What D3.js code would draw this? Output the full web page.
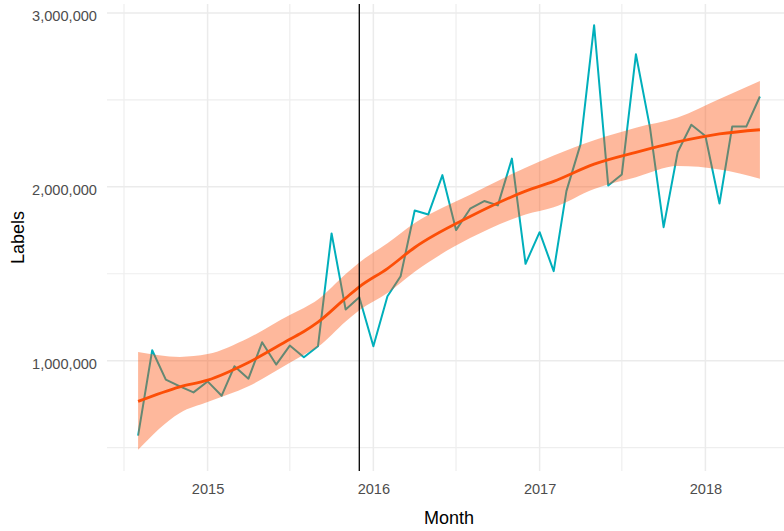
<!DOCTYPE html>
<html>
<head>
<meta charset="utf-8">
<script src="https://cdn.jsdelivr.net/npm/d3@7"></script>
<style>
  body { margin: 0; background: #fff; }
  text { font-family: "Liberation Sans", Arial, sans-serif; }
</style>
</head>
<body>
<svg id="chart"></svg>
<script>
// monthly label counts
var months = ["2014-08", "2014-09", "2014-10", "2014-11", "2014-12",
  "2015-01", "2015-02", "2015-03", "2015-04", "2015-05", "2015-06", "2015-07",
  "2015-08", "2015-09", "2015-10", "2015-11", "2015-12",
  "2016-01", "2016-02", "2016-03", "2016-04", "2016-05", "2016-06", "2016-07",
  "2016-08", "2016-09", "2016-10", "2016-11", "2016-12",
  "2017-01", "2017-02", "2017-03", "2017-04", "2017-05", "2017-06", "2017-07",
  "2017-08", "2017-09", "2017-10", "2017-11", "2017-12",
  "2018-01", "2018-02", "2018-03", "2018-04", "2018-05"];
var labels = [569000, 1060000, 891000, 853000, 818000,
  881000, 799000, 968000, 897000, 1106000, 978000, 1087000,
  1020000, 1083000, 1732000, 1294000, 1365000,
  1083000, 1371000, 1486000, 1864000, 1841000, 2067000, 1751000,
  1874000, 1918000, 1893000, 2162000, 1557000,
  1739000, 1515000, 1975000, 2244000, 2929000, 2008000, 2071000,
  2762000, 2340000, 1768000, 2200000, 2357000,
  2292000, 1904000, 2346000, 2346000, 2519000];

// loess smooth (fit and confidence band)
var smoothMonths = ["2014-08", "2014-11", "2015-01", "2015-04", "2015-07", "2015-08",
  "2015-09", "2015-11", "2015-12", "2016-02", "2016-04", "2016-08", "2016-12",
  "2017-02", "2017-05", "2017-08", "2017-11", "2018-02", "2018-05"];
var smoothFit = [766000, 850000, 888000, 990000, 1123000, 1168000,
  1222000, 1360000, 1425000, 1530000, 1651000, 1829000, 1975000,
  2031000, 2130000, 2198000, 2258000, 2304000, 2328000];
var smoothLow = [488000, 700000, 762000, 853000, 988000, 1035000,
  1080000, 1225000, 1290000, 1390000, 1512000, 1705000, 1841000,
  1882000, 1988000, 2055000, 2119000, 2100000, 2047000];
var smoothHigh = [1050000, 1022000, 1038000, 1131000, 1263000, 1303000,
  1352000, 1498000, 1565000, 1675000, 1792000, 1955000, 2110000,
  2180000, 2268000, 2340000, 2398000, 2505000, 2609000];

var yMajor = [1000000, 2000000, 3000000];
var yMinor = [500000, 1500000, 2500000];
var xMajor = ["2015-01", "2016-01", "2017-01", "2018-01"];
var xMinor = ["2014-07", "2015-07", "2016-07", "2017-07"];
var markerMonth = "2015-12";

var W = 784, H = 531;
var margin = { top: 4, right: -7, bottom: 60, left: 107 };
var width = W - margin.left - margin.right,
  height = H - margin.top - margin.bottom;

var parse = d3.timeParse("%Y-%m");
var data = months.map(function (m, i) { return { date: parse(m), value: labels[i] }; });
var smooth = smoothMonths.map(function (m, i) {
  return { date: parse(m), fit: smoothFit[i], lo: smoothLow[i], hi: smoothHigh[i] };
});

var svg = d3.select("#chart")
  .attr("width", W)
  .attr("height", H);

var g = svg.append("g")
  .attr("transform", "translate(" + margin.left + "," + margin.top + ")");

// ggplot style 5% expansion
var xExt = d3.extent(data, function (d) { return d.date; });
var xPad = (xExt[1] - xExt[0]) * 0.05;
var x = d3.scaleTime()
  .domain([new Date(+xExt[0] - xPad), new Date(+xExt[1] + xPad)])
  .range([0, width]);

var yLo = Math.min(d3.min(labels), d3.min(smoothLow));
var yHi = Math.max(d3.max(labels), d3.max(smoothHigh));
var yPad = (yHi - yLo) * 0.05;
var y = d3.scaleLinear()
  .domain([yLo - yPad, yHi + yPad])
  .range([height, 0]);

// grid
g.selectAll(".yminor").data(yMinor).enter().append("line")
  .attr("x1", 0).attr("x2", width)
  .attr("y1", function (d) { return y(d); }).attr("y2", function (d) { return y(d); })
  .attr("stroke", "#eeeeee").attr("stroke-width", 1.2);
g.selectAll(".xminor").data(xMinor).enter().append("line")
  .attr("y1", 0).attr("y2", height)
  .attr("x1", function (d) { return x(parse(d)); }).attr("x2", function (d) { return x(parse(d)); })
  .attr("stroke", "#eeeeee").attr("stroke-width", 1.2);
g.selectAll(".ymajor").data(yMajor).enter().append("line")
  .attr("x1", 0).attr("x2", width)
  .attr("y1", function (d) { return y(d); }).attr("y2", function (d) { return y(d); })
  .attr("stroke", "#ebebeb").attr("stroke-width", 1.5);
g.selectAll(".xmajor").data(xMajor).enter().append("line")
  .attr("y1", 0).attr("y2", height)
  .attr("x1", function (d) { return x(parse(d)); }).attr("x2", function (d) { return x(parse(d)); })
  .attr("stroke", "#ebebeb").attr("stroke-width", 1.5);

// Add Y axis labels
var yAxis = d3.axisLeft(y).tickValues(yMajor).tickSize(0).tickPadding(10)
  .tickFormat(d3.format(","));
var yg = g.append("g").call(yAxis);
yg.select(".domain").remove();
yg.selectAll("text")
  .attr("dy", "0.55em")
  .attr("fill", "#4d4d4d")
  .style("font-size", "14.6px")
  .style("font-family", "'Liberation Sans', Arial, sans-serif");

// Add X axis labels
var xAxis = d3.axisBottom(x).tickValues(xMajor.map(parse)).tickSize(0).tickPadding(13)
  .tickFormat(d3.timeFormat("%Y"));
var xg = g.append("g").attr("transform", "translate(0," + height + ")").call(xAxis);
xg.select(".domain").remove();
xg.selectAll("text")
  .attr("fill", "#4d4d4d")
  .style("font-size", "14.6px")
  .style("font-family", "'Liberation Sans', Arial, sans-serif");

// the series
g.append("path")
  .datum(data)
  .attr("fill", "none")
  .attr("stroke", "#00AFBB")
  .attr("stroke-width", 2)
  .attr("stroke-linejoin", "round")
  .attr("d", d3.line()
    .x(function (d) { return x(d.date); })
    .y(function (d) { return y(d.value); }));

// smooth band + fit
g.append("path")
  .datum(smooth)
  .attr("fill", "#FC4E07")
  .attr("fill-opacity", 0.4)
  .attr("d", d3.area()
    .curve(d3.curveMonotoneX)
    .x(function (d) { return x(d.date); })
    .y0(function (d) { return y(d.lo); })
    .y1(function (d) { return y(d.hi); }));

g.append("path")
  .datum(smooth)
  .attr("fill", "none")
  .attr("stroke", "#FC4E07")
  .attr("stroke-width", 2.8)
  .attr("d", d3.line()
    .curve(d3.curveMonotoneX)
    .x(function (d) { return x(d.date); })
    .y(function (d) { return y(d.fit); }));

// marker line
g.append("line")
  .attr("x1", x(parse(markerMonth))).attr("x2", x(parse(markerMonth)))
  .attr("y1", 0).attr("y2", height)
  .attr("stroke", "#000").attr("stroke-width", 1.3);

// axis titles
svg.append("text")
  .attr("x", margin.left + width / 2)
  .attr("y", 524)
  .attr("text-anchor", "middle")
  .style("font-size", "18px")
  .text("Month");

svg.append("text")
  .attr("transform", "translate(24," + (margin.top + height / 2) + ") rotate(-90)")
  .attr("text-anchor", "middle")
  .style("font-size", "18px")
  .text("Labels");
</script>
</body>
</html>
